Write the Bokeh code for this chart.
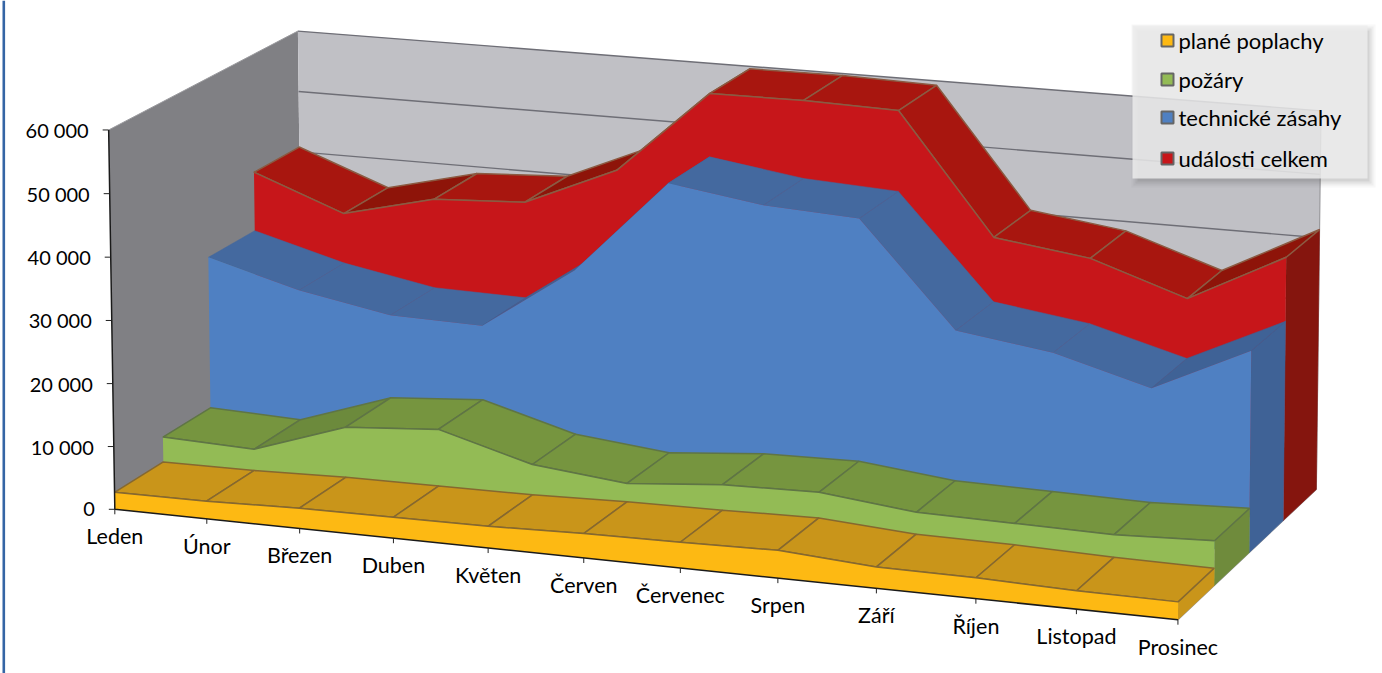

import numpy as np
from bokeh.plotting import figure
from bokeh.core.properties import value
from bokeh.embed import file_html
from bokeh.resources import INLINE

months = ["Leden","Únor","Březen","Duben","Květen","Červen","Červenec","Srpen","Září","Říjen","Listopad","Prosinec"]
plane_poplachy = [2700,2800,3200,3300,3400,3800,4000,4300,3300,3200,2800,2700]
pozary = [6700,6200,11200,12300,8200,6700,8000,8300,6700,6500,6300,6900]
technicke_zasahy = [31200,27200,24500,24200,34400,49500,47300,46500,30300,28200,24100,31300]
udalosti_celkem = [40800,35300,38900,39700,46100,59600,59700,59300,40500,38500,33500,41300]
y_ticks = [0,10000,20000,30000,40000,50000,60000]
y_labels = ["0","10 000","20 000","30 000","40 000","50 000","60 000"]
series_names = ["plané poplachy","požáry","technické zásahy","události celkem"]
series_values = [plane_poplachy,pozary,technicke_zasahy,udalosti_celkem]
front_colors = ["#FDB913","#93BB55","#4F80C2","#C7161A"]
top_colors = ["#C9951A","#76953F","#44699F","#A8160F"]
rise_colors = ["#C9951A","#6C8A3C","#3F6296","#8E1409"]
side_colors = ["#C9951A","#6F8B3C","#3F6296","#85150E"]
edge_colors = ["#86682F","#5F7545",None,"#8B5A42"]

# camera: 3D -> page pixels, fitted to the chart box corners
tx=[114.7,206,299,393,487.5,583,680,777,875.6,975,1075,1177]
ty=[508,519,528,537,547,557,567,577,588,598,609,621]
cal=[(i/11,0,0,tx[i],ty[i]) for i in range(12)]
cal+=[(0,0,60,107,130),(0,1,60,298,30),(1,1,60,1320,113),(0,1,50,299,89),(1,1,50,1320,173),(1,1,0,1313,487),(0,1,0,300,395),
(0,.25,0,165,478),(1,.25,0,1213,587),(0,.5,0,212,448),(1,.5,0,1252,552),(0,.75,0,255,419),(1,.75,0,1285,518)]
A=[];b=[]
for t,d,v,x,y in cal:
    A.append([t,d,v,1,0,0,0,0,-x*t,-x*d,-x*v]);b.append(x)
    A.append([0,0,0,0,t,d,v,1,-y*t,-y*d,-y*v]);b.append(y)
m=np.linalg.lstsq(np.array(A,float),np.array(b,float),rcond=None)[0]
P=np.append(m,1).reshape(3,4)
def pr(t,d,val):
    h=P@np.array([t,d,val/1000.0,1.0])
    return float(h[0]/h[2]),float(h[1]/h[2])
def poly(pts):
    q=[pr(*a) for a in pts]
    return [a[0] for a in q],[a[1] for a in q]

W,H=1382,673
p=figure(width=W,height=H,x_range=(0,W),y_range=(H,0),output_backend="svg",toolbar_location=None,
         min_border=0,outline_line_color=None,background_fill_color="white",
         styles={"position":"absolute","left":"0px","top":"0px"})
p.axis.visible=False
p.grid.visible=False

# page frame rule on the left
p.quad(left=[2],right=[4.6],top=[0],bottom=[H],fill_color="#3565A5",line_color=None)

# walls
xs,ys=poly([(0,0,0),(0,1,0),(0,1,60000),(0,0,60000)])
p.patch(xs,ys,fill_color="#808084",line_color=None)
xs,ys=poly([(0,1,0),(1,1,0),(1,1,60000),(0,1,60000)])
p.patch(xs,ys,fill_color="#C0C0C5",line_color=None)
for v in y_ticks[1:]:
    xs,ys=poly([(0,1,v),(1,1,v)])
    p.line(xs,ys,line_color="#6E6E76",line_width=1.4)
xs,ys=poly([(1,1,60000),(1,1,0),(1,0,0)])
p.line(xs,ys,line_color="#9A9A9E",line_width=1.2)
xs,ys=poly([(0,0,60000),(0,1,60000)])
p.line(xs,ys,line_color="#9A9A9E",line_width=1)

# area bands, back to front
n=len(months)
for k in [3,2,1,0]:
    vals=series_values[k]
    d0,d1=k*0.25,(k+1)*0.25
    ts=[i/(n-1) for i in range(n)]
    # end face
    xs,ys=poly([(1,d0,0),(1,d0,vals[-1]),(1,d1,vals[-1]),(1,d1,0)])
    p.patch(xs,ys,fill_color=side_colors[k],line_color=side_colors[k],line_width=0.5)
    # top strips
    for i in range(n-1):
        xs,ys=poly([(ts[i],d0,vals[i]),(ts[i+1],d0,vals[i+1]),(ts[i+1],d1,vals[i+1]),(ts[i],d1,vals[i])])
        e=edge_colors[k]
        c=rise_colors[k] if vals[i+1]-vals[i]>2000 else top_colors[k]
        p.patch(xs,ys,fill_color=c,line_color=e if e else c,line_width=1.5 if e else 0.5)
    # front face
    pts=[(0,d0,0)]+[(ts[i],d0,vals[i]) for i in range(n)]+[(1,d0,0)]
    xs,ys=poly(pts)
    p.patch(xs,ys,fill_color=front_colors[k],line_color=None)
    if edge_colors[k]:
        xs,ys=poly([(ts[i],d0,vals[i]) for i in range(n)])
        p.line(xs,ys,line_color=edge_colors[k],line_width=1.5)

# axes
xs,ys=poly([(0,0,60000),(0,0,0),(1,0,0)])
p.line(xs,ys,line_color="#1a1a1a",line_width=1.5)
ax=[pr(0,0,v) for v in y_ticks]
p.segment(x0=[a[0]-6 for a in ax],y0=[a[1] for a in ax],x1=[a[0] for a in ax],y1=[a[1] for a in ax],line_color="#222222",line_width=1)
fx=[pr(i/(n-1),0,0) for i in range(n)]
p.segment(x0=[a[0] for a in fx],y0=[a[1] for a in fx],x1=[a[0] for a in fx],y1=[a[1]+5 for a in fx],line_color="#222222",line_width=1)

F=value("Lato")
p.text(x=[a[0]-20 for a in ax],y=[a[1] for a in ax],text=y_labels,text_align="right",text_baseline="middle",
       text_font=F,text_font_size="20px",text_color="#000000")
p.text(x=[a[0] for a in fx],y=[a[1]+27 for a in fx],text=months,text_align="center",text_baseline="middle",
       text_font=F,text_font_size="21.5px",text_color="#000000")

# legend panel
for g,al in [(9,0.04),(7,0.05),(5,0.07),(3,0.09)]:
    p.quad(left=[1132+8-g],right=[1367+g-1],top=[25+8-g],bottom=[178+g],fill_color="#444444",fill_alpha=al,line_color=None)
p.quad(left=[1132],right=[1367],top=[25],bottom=[178],fill_color="#ECECEC",fill_alpha=0.85,line_color=None)
ly=[40,79,117,158]
p.quad(left=[1161]*4,right=[1173]*4,top=[y-6 for y in ly],bottom=[y+6 for y in ly],fill_color=front_colors,line_color="#666666",line_width=2)
p.text(x=[1178]*4,y=ly,text=series_names,text_align="left",text_baseline="middle",text_font=F,text_font_size="22px",text_color="#000000")

open("out.html","w").write(file_html(p,INLINE))
